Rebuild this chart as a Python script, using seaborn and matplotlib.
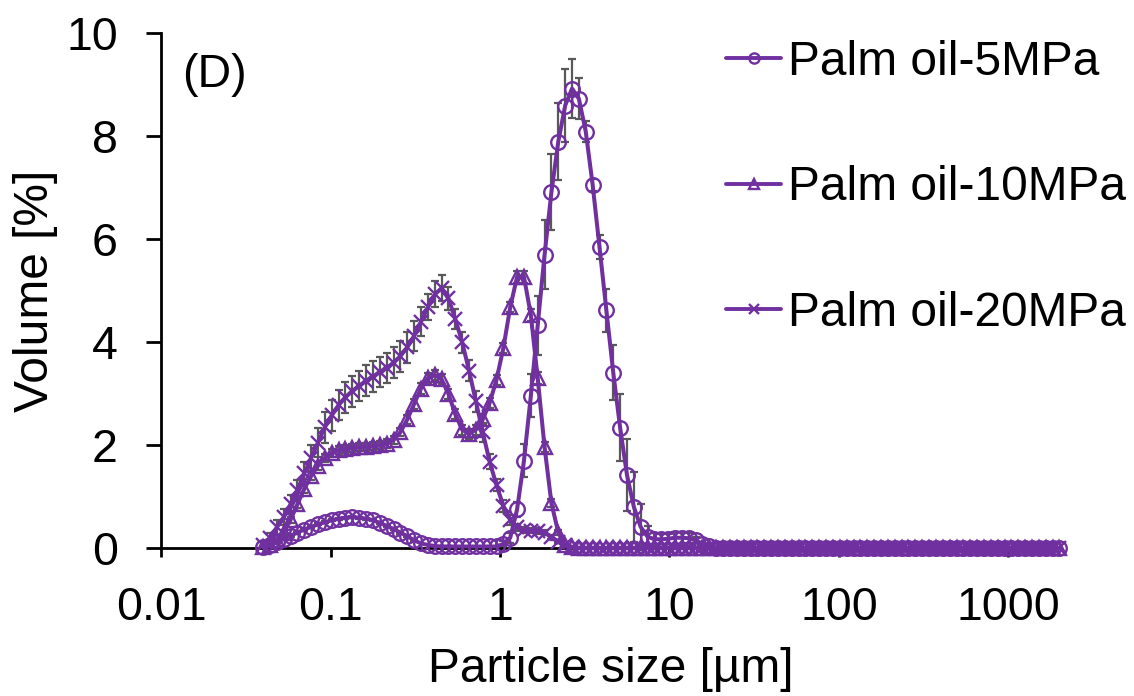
import numpy as np
import pandas as pd
import matplotlib
matplotlib.use("Agg")
import matplotlib.pyplot as plt
import seaborn as sns
from matplotlib.ticker import FixedLocator, NullLocator, FixedFormatter

# ---------------- data ----------------
sizes = [
    0.04000, 0.04391, 0.04820, 0.05291, 0.05808, 0.06376, 0.06999, 0.07683, 0.08434, 0.09260,
    0.1017, 0.1116, 0.1225, 0.1345, 0.1476, 0.1621, 0.1779, 0.1953, 0.2144, 0.2353,
    0.2583, 0.2836, 0.3113, 0.3417, 0.3751, 0.4118, 0.4520, 0.4962, 0.5447, 0.5980,
    0.6564, 0.7206, 0.7911, 0.8684, 0.9535, 1.047, 1.149, 1.261, 1.385, 1.520,
    1.669, 1.832, 2.011, 2.208, 2.424, 2.661, 2.921, 3.207, 3.520, 3.864,
    4.242, 4.657, 5.112, 5.612, 6.161, 6.761, 7.424, 8.150, 8.946, 9.818,
    10.78, 11.83, 12.99, 14.26, 15.65, 17.18, 18.86, 20.71, 22.73, 24.95,
    27.39, 30.07, 33.01, 36.24, 39.78, 43.67, 47.94, 52.62, 57.77, 63.42,
    69.62, 76.42, 83.89, 92.09, 101.1, 111.0, 121.8, 133.7, 146.8, 161.2,
    176.9, 194.2, 213.2, 234.0, 256.9, 282.0, 309.6, 339.9, 373.1, 409.6,
    449.6, 493.6, 541.8, 594.8, 652.9, 716.7, 786.8, 863.7, 948.2, 1041,
    1143, 1254, 1377, 1512, 1659, 1822, 2000,
]

vol_5mpa = [
    0.02, 0.06, 0.12, 0.18, 0.24, 0.30, 0.36, 0.41, 0.46, 0.50,
    0.54, 0.57, 0.59, 0.60, 0.59, 0.57, 0.54, 0.49, 0.43, 0.37,
    0.30, 0.23, 0.15, 0.09, 0.06, 0.04, 0.03, 0.03, 0.03, 0.03,
    0.03, 0.03, 0.03, 0.03, 0.03, 0.08, 0.20, 0.75, 1.70, 2.96,
    4.33, 5.70, 6.92, 7.90, 8.60, 8.93, 8.73, 8.09, 7.06, 5.85,
    4.62, 3.41, 2.34, 1.42, 0.80, 0.41, 0.22, 0.17, 0.17, 0.18,
    0.20, 0.20, 0.19, 0.15, 0.08, 0.03, 0.0, 0.0, 0.0, 0.0,
    0.0, 0.0, 0.0, 0.0, 0.0, 0.0, 0.0, 0.0, 0.0, 0.0,
    0.0, 0.0, 0.0, 0.0, 0.0, 0.0, 0.0, 0.0, 0.0, 0.0,
    0.0, 0.0, 0.0, 0.0, 0.0, 0.0, 0.0, 0.0, 0.0, 0.0,
    0.0, 0.0, 0.0, 0.0, 0.0, 0.0, 0.0, 0.0, 0.0, 0.0,
    0.0, 0.0, 0.0, 0.0, 0.0, 0.0, 0.0,
]
err_5mpa = [
    0.0, 0.0, 0.02, 0.02, 0.02, 0.02, 0.02, 0.02, 0.02, 0.02,
    0.02, 0.02, 0.02, 0.02, 0.02, 0.02, 0.02, 0.02, 0.02, 0.02,
    0.02, 0.02, 0.02, 0.0, 0.0, 0.0, 0.0, 0.0, 0.0, 0.0,
    0.0, 0.0, 0.0, 0.0, 0.0, 0.05, 0.10, 0.15, 0.32, 0.42,
    0.57, 0.67, 0.73, 0.75, 0.70, 0.57, 0.40, 0.20, 0.12, 0.24,
    0.42, 0.53, 0.65, 0.70, 0.68, 0.45, 0.20, 0.12, 0.10, 0.10,
    0.12, 0.12, 0.10, 0.06, 0.03, 0.0, 0.0, 0.0, 0.0, 0.0,
    0.0, 0.0, 0.0, 0.0, 0.0, 0.0, 0.0, 0.0, 0.0, 0.0,
    0.0, 0.0, 0.0, 0.0, 0.0, 0.0, 0.0, 0.0, 0.0, 0.0,
    0.0, 0.0, 0.0, 0.0, 0.0, 0.0, 0.0, 0.0, 0.0, 0.0,
    0.0, 0.0, 0.0, 0.0, 0.0, 0.0, 0.0, 0.0, 0.0, 0.0,
    0.0, 0.0, 0.0, 0.0, 0.0, 0.0, 0.0,
]

vol_10mpa = [
    0.02, 0.06, 0.15, 0.30, 0.55, 0.85, 1.15, 1.40, 1.60, 1.75,
    1.85, 1.90, 1.93, 1.95, 1.96, 1.97, 1.98, 2.00, 2.03, 2.10,
    2.25, 2.50, 2.80, 3.10, 3.30, 3.36, 3.28, 3.00, 2.60, 2.30,
    2.22, 2.30, 2.50, 2.82, 3.27, 3.89, 4.68, 5.27, 5.27, 4.53,
    3.30, 1.96, 0.87, 0.30, 0.05, 0.02, 0.0, 0.0, 0.0, 0.0,
    0.0, 0.0, 0.0, 0.0, 0.0, 0.0, 0.0, 0.0, 0.0, 0.0,
    0.0, 0.0, 0.0, 0.0, 0.0, 0.0, 0.0, 0.0, 0.0, 0.0,
    0.0, 0.0, 0.0, 0.0, 0.0, 0.0, 0.0, 0.0, 0.0, 0.0,
    0.0, 0.0, 0.0, 0.0, 0.0, 0.0, 0.0, 0.0, 0.0, 0.0,
    0.0, 0.0, 0.0, 0.0, 0.0, 0.0, 0.0, 0.0, 0.0, 0.0,
    0.0, 0.0, 0.0, 0.0, 0.0, 0.0, 0.0, 0.0, 0.0, 0.0,
    0.0, 0.0, 0.0, 0.0, 0.0, 0.0, 0.0,
]
err_10mpa = [
    0.0, 0.0, 0.03, 0.05, 0.06, 0.07, 0.08, 0.08, 0.08, 0.08,
    0.08, 0.08, 0.08, 0.08, 0.08, 0.08, 0.08, 0.08, 0.08, 0.08,
    0.08, 0.09, 0.10, 0.10, 0.10, 0.10, 0.10, 0.10, 0.10, 0.10,
    0.10, 0.10, 0.10, 0.10, 0.10, 0.10, 0.10, 0.12, 0.12, 0.12,
    0.12, 0.10, 0.08, 0.05, 0.0, 0.0, 0.0, 0.0, 0.0, 0.0,
    0.0, 0.0, 0.0, 0.0, 0.0, 0.0, 0.0, 0.0, 0.0, 0.0,
    0.0, 0.0, 0.0, 0.0, 0.0, 0.0, 0.0, 0.0, 0.0, 0.0,
    0.0, 0.0, 0.0, 0.0, 0.0, 0.0, 0.0, 0.0, 0.0, 0.0,
    0.0, 0.0, 0.0, 0.0, 0.0, 0.0, 0.0, 0.0, 0.0, 0.0,
    0.0, 0.0, 0.0, 0.0, 0.0, 0.0, 0.0, 0.0, 0.0, 0.0,
    0.0, 0.0, 0.0, 0.0, 0.0, 0.0, 0.0, 0.0, 0.0, 0.0,
    0.0, 0.0, 0.0, 0.0, 0.0, 0.0, 0.0,
]

vol_20mpa = [
    0.05, 0.20, 0.40, 0.60, 0.85, 1.13, 1.45, 1.75, 2.05, 2.35,
    2.58, 2.78, 2.93, 3.05, 3.15, 3.25, 3.33, 3.42, 3.50, 3.60,
    3.73, 3.90, 4.12, 4.40, 4.68, 4.93, 5.05, 4.85, 4.45, 4.00,
    3.45, 2.85, 2.25, 1.68, 1.22, 0.82, 0.55, 0.40, 0.35, 0.34,
    0.33, 0.30, 0.22, 0.12, 0.05, 0.02, 0.0, 0.0, 0.0, 0.0,
    0.0, 0.0, 0.0, 0.0, 0.0, 0.0, 0.0, 0.0, 0.0, 0.0,
    0.0, 0.0, 0.0, 0.0, 0.0, 0.0, 0.0, 0.0, 0.0, 0.0,
    0.0, 0.0, 0.0, 0.0, 0.0, 0.0, 0.0, 0.0, 0.0, 0.0,
    0.0, 0.0, 0.0, 0.0, 0.0, 0.0, 0.0, 0.0, 0.0, 0.0,
    0.0, 0.0, 0.0, 0.0, 0.0, 0.0, 0.0, 0.0, 0.0, 0.0,
    0.0, 0.0, 0.0, 0.0, 0.0, 0.0, 0.0, 0.0, 0.0, 0.0,
    0.0, 0.0, 0.0, 0.0, 0.0, 0.0, 0.0,
]
err_20mpa = [
    0.0, 0.10, 0.15, 0.15, 0.18, 0.20, 0.22, 0.25, 0.28, 0.30,
    0.30, 0.30, 0.30, 0.30, 0.30, 0.30, 0.30, 0.30, 0.30, 0.30,
    0.30, 0.30, 0.30, 0.28, 0.25, 0.25, 0.25, 0.22, 0.20, 0.20,
    0.20, 0.20, 0.18, 0.15, 0.12, 0.12, 0.10, 0.06, 0.05, 0.05,
    0.05, 0.05, 0.04, 0.03, 0.0, 0.0, 0.0, 0.0, 0.0, 0.0,
    0.0, 0.0, 0.0, 0.0, 0.0, 0.0, 0.0, 0.0, 0.0, 0.0,
    0.0, 0.0, 0.0, 0.0, 0.0, 0.0, 0.0, 0.0, 0.0, 0.0,
    0.0, 0.0, 0.0, 0.0, 0.0, 0.0, 0.0, 0.0, 0.0, 0.0,
    0.0, 0.0, 0.0, 0.0, 0.0, 0.0, 0.0, 0.0, 0.0, 0.0,
    0.0, 0.0, 0.0, 0.0, 0.0, 0.0, 0.0, 0.0, 0.0, 0.0,
    0.0, 0.0, 0.0, 0.0, 0.0, 0.0, 0.0, 0.0, 0.0, 0.0,
    0.0, 0.0, 0.0, 0.0, 0.0, 0.0, 0.0,
]

series_labels = ["Palm oil-5MPa", "Palm oil-10MPa", "Palm oil-20MPa"]
x_ticks = [0.01, 0.1, 1, 10, 100, 1000]
x_tick_labels = ["0.01", "0.1", "1", "10", "100", "1000"]
y_ticks = [0, 2, 4, 6, 8, 10]
y_tick_labels = ["0", "2", "4", "6", "8", "10"]

# ---------------- style ----------------
sns.set_theme(style="white")
plt.rcParams["font.family"] = ["Liberation Sans", "DejaVu Sans"]
plt.rcParams["text.color"] = "black"
plt.rcParams["axes.labelcolor"] = "black"
plt.rcParams["xtick.color"] = "black"
plt.rcParams["ytick.color"] = "black"

PURPLE = "#7030A0"
GREY = "#595959"
FS_TICK = 33.5
FS = 34.5

fig = plt.figure(figsize=(11.34, 6.96), dpi=100)
ax = fig.add_axes([0.1420, 0.2126, 0.9343 - 0.1420, 0.9519 - 0.2126])

series = [
    (vol_5mpa, err_5mpa, "o", series_labels[0]),
    (vol_10mpa, err_10mpa, "^", series_labels[1]),
    (vol_20mpa, err_20mpa, "x", series_labels[2]),
]

x_arr = np.array(sizes)
for vals, errs, mk, lab in series:
    v = np.array(vals)
    e = np.array(errs)
    m = e > 0
    ax.errorbar(x_arr[m], v[m], yerr=e[m], fmt="none", ecolor=GREY,
                elinewidth=1.6, capsize=3.2, capthick=1.6, zorder=2, clip_on=False)

for vals, errs, mk, lab in series:
    df = pd.DataFrame({"size": sizes, "volume": vals})
    sns.lineplot(data=df, x="size", y="volume", ax=ax, color=PURPLE,
                 linewidth=2.9, marker=mk, markersize=10.5,
                 markerfacecolor="none", markeredgecolor=PURPLE,
                 markeredgewidth=1.7, label=lab, clip_on=False, zorder=3,
                 sort=False)

ax.set_xscale("log")
ax.set_xlim(0.01, 2000)
ax.set_ylim(0, 10)
ax.xaxis.set_major_locator(FixedLocator(x_ticks))
ax.xaxis.set_major_formatter(FixedFormatter(x_tick_labels))
ax.xaxis.set_minor_locator(NullLocator())
ax.yaxis.set_major_locator(FixedLocator(y_ticks))
ax.yaxis.set_major_formatter(FixedFormatter(y_tick_labels))

for side in ["top", "right"]:
    ax.spines[side].set_visible(False)
for side in ["left", "bottom"]:
    ax.spines[side].set_color("black")
    ax.spines[side].set_linewidth(2.0)

ax.tick_params(axis="x", direction="out", length=6.5, width=2.0, colors="black",
               labelsize=FS_TICK, pad=21, bottom=True)
ax.tick_params(axis="y", direction="out", length=11, width=2.0, colors="black",
               labelsize=FS_TICK, pad=20, left=True)

ax.set_xlabel("Particle size [µm]", fontsize=FS, color="black", labelpad=12)
ax.set_ylabel("Volume [%]", fontsize=FS, color="black", labelpad=6)

fig.text(182 / 1134, 1 - 75 / 696, "(D)", fontsize=FS_TICK, color="black",
         ha="left", va="center")

leg = ax.legend(loc="upper left", bbox_to_anchor=(726 / 1134, 1 - 40 / 696),
                bbox_transform=fig.transFigure, frameon=False, fontsize=FS,
                handlelength=1.15, handletextpad=0.15, labelspacing=1.68,
                borderpad=0, borderaxespad=0, markerscale=0.7)
for text in leg.get_texts():
    text.set_color("black")
for line in leg.get_lines():
    line.set_linewidth(2.8)

fig.savefig("out.png", dpi=100)
